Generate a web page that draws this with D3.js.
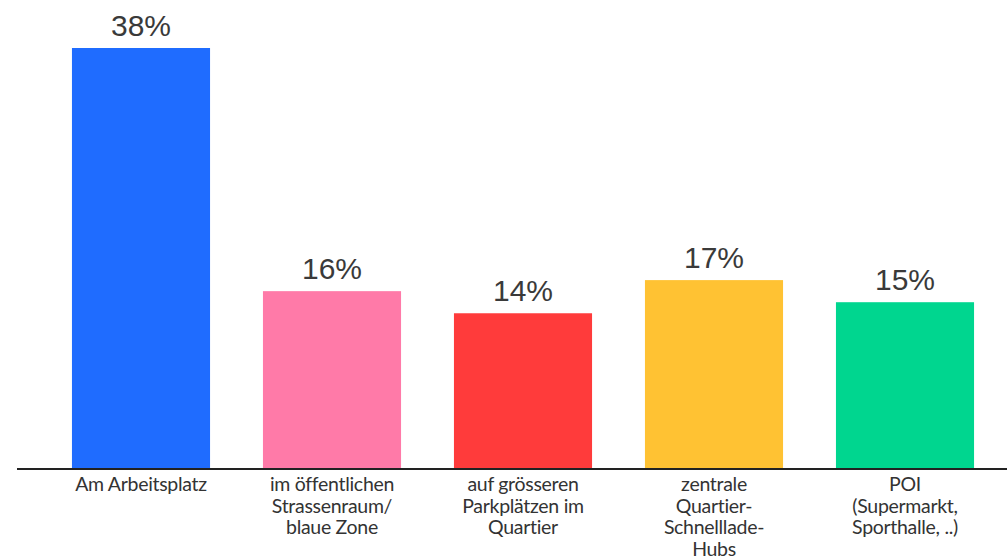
<!DOCTYPE html>
<html>
<head>
<meta charset="utf-8">
<script src="https://cdn.jsdelivr.net/npm/d3@7"></script>
<style>
  html, body { margin: 0; padding: 0; background: #fff; }
  svg { display: block; }
</style>
</head>
<body>
<svg id="chart" width="1007" height="560"></svg>
<script>
// Where people would like to charge: share of answers per location
const categories = [
  "Am Arbeitsplatz",
  "im öffentlichen Strassenraum/ blaue Zone",
  "auf grösseren Parkplätzen im Quartier",
  "zentrale Quartier-Schnelllade-Hubs",
  "POI (Supermarkt, Sporthalle, ..)"
];
const categoryLines = [
  ["Am Arbeitsplatz"],
  ["im öffentlichen", "Strassenraum/", "blaue Zone"],
  ["auf grösseren", "Parkplätzen im", "Quartier"],
  ["zentrale", "Quartier-", "Schnelllade-", "Hubs"],
  ["POI", "(Supermarkt,", "Sporthalle, ..)"]
];
const values = [38, 16, 14, 17, 15];
const colors = ["#1f6cff", "#ff7aa8", "#ff3b3b", "#ffc233", "#00d68f"];

const svg = d3.select("#chart");
const baseY = 468;

const x = d3.scaleBand()
  .domain(categories)
  .range([45.5, 1000.5])
  .paddingInner(0.277)
  .paddingOuter(0.1385);

const y = d3.scaleLinear()
  .domain([0, 38])
  .range([baseY, 48]);

// bars
svg.append("g")
  .selectAll("rect")
  .data(values)
  .join("rect")
  .attr("x", (d, i) => x(categories[i]))
  .attr("y", d => y(d))
  .attr("width", x.bandwidth())
  .attr("height", d => y(0) - y(d))
  .attr("fill", (d, i) => colors[i]);

// value labels
svg.append("g")
  .selectAll("text")
  .data(values)
  .join("text")
  .attr("x", (d, i) => x(categories[i]) + x.bandwidth() / 2)
  .attr("y", d => y(d) - 12)
  .attr("text-anchor", "middle")
  .attr("font-family", "'Liberation Sans', Arial, sans-serif")
  .attr("font-size", 30)
  .attr("fill", "#3a3a3a")
  .text(d => d + "%");

// baseline axis
const axis = d3.axisBottom(x).tickSize(0).tickFormat("");
const axisG = svg.append("g")
  .attr("transform", `translate(0,${baseY + 1})`)
  .call(axis);
axisG.select(".domain")
  .attr("d", `M17,0H1007`)
  .attr("stroke", "#222")
  .attr("stroke-width", 2.2);

// category labels
const lab = svg.append("g")
  .selectAll("text")
  .data(categories)
  .join("text")
  .attr("x", d => x(d) + x.bandwidth() / 2)
  .attr("y", 491)
  .attr("text-anchor", "middle")
  .attr("font-family", "Lato, 'Open Sans', sans-serif")
  .attr("font-size", 19.5)
  .attr("letter-spacing", -0.3)
  .attr("fill", "#333");
lab.each(function(d, i) {
  d3.select(this).selectAll("tspan")
    .data(categoryLines[i])
    .join("tspan")
    .attr("x", x(d) + x.bandwidth() / 2)
    .attr("dy", (t, j) => j === 0 ? 0 : 21.7)
    .text(t => t);
});
</script>
</body>
</html>
